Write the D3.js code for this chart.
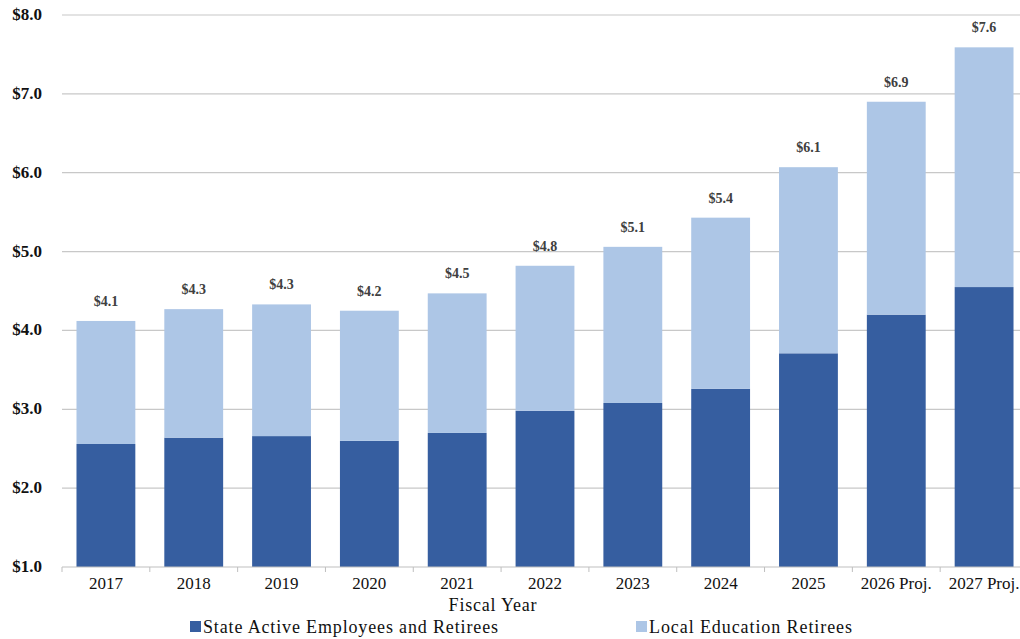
<!DOCTYPE html>
<html><head><meta charset="utf-8">
<script src="https://cdn.jsdelivr.net/npm/d3@7"></script>
<style>body{margin:0;background:#fff;}</style>
</head><body>
<svg id="chart" width="1020" height="639"></svg>
<script>
const categories = ["2017","2018","2019","2020","2021","2022","2023","2024","2025","2026 Proj.","2027 Proj."];
const stateActive = [2.56,2.64,2.66,2.60,2.70,2.98,3.08,3.26,3.71,4.20,4.55];
const localEducation = [1.56,1.63,1.67,1.65,1.77,1.84,1.98,2.17,2.36,2.70,3.04];
const totalLabels = ["$4.1","$4.3","$4.3","$4.2","$4.5","$4.8","$5.1","$5.4","$6.1","$6.9","$7.6"];
const yTicks = [1,2,3,4,5,6,7,8];
const seriesNames = ["State Active Employees and Retirees","Local Education Retirees"];
const colors = ["#365EA0","#ADC6E6"];
const FONT = '"Liberation Serif", "Times New Roman", serif';

const svg = d3.select("#chart");
const x = d3.scaleBand().domain(categories).range([62,1028]).paddingInner(0.33).paddingOuter(0.165);
const y = d3.scaleLinear().domain([1,8]).range([567,15]);

svg.append("g").selectAll("line").data(yTicks.slice(1)).join("line")
  .attr("x1",62).attr("x2",1028).attr("y1",d=>y(d)).attr("y2",d=>y(d))
  .attr("stroke","#c8c8c8").attr("stroke-width",1.2);

svg.append("g").selectAll("text").data(yTicks).join("text")
  .attr("x",42).attr("y",d=>y(d)+5).attr("text-anchor","end").style("font-family",FONT)
  .attr("font-size",17).attr("font-weight","bold").attr("fill","#111")
  .text(d=>"$"+d.toFixed(1));

const data = categories.map((c,i)=>({c, s:stateActive[i], l:localEducation[i], lab:totalLabels[i]}));
const stack = d3.stack().keys(["s","l"])(data);

svg.append("g").selectAll("g").data(stack).join("g")
  .attr("fill",(d,i)=>colors[i])
  .selectAll("rect").data(d=>d).join("rect")
  .attr("x",d=>x(d.data.c)).attr("width",x.bandwidth())
  .attr("y",d=>y(d[1])).attr("height",d=>y(Math.max(1,d[0]))-y(d[1]));

svg.append("g").selectAll("text").data(data).join("text")
  .attr("x",d=>x(d.c)+x.bandwidth()/2).attr("y",d=>y(d.s+d.l)-15).style("font-family",FONT)
  .attr("text-anchor","middle").attr("font-size",14).attr("font-weight","bold").attr("fill","#404040")
  .text(d=>d.lab);

const xAxis = svg.append("g").attr("transform","translate(0,567)");
xAxis.append("line").attr("x1",62).attr("x2",1028).attr("stroke","#bfbfbf").attr("stroke-width",1.2);
const bounds = d3.range(categories.length+1).map(i=>62+i*x.step());
xAxis.selectAll("line.t").data(bounds).join("line").attr("class","t")
  .attr("x1",d=>d).attr("x2",d=>d).attr("y1",0).attr("y2",5).attr("stroke","#bfbfbf");
xAxis.selectAll("text").data(categories).join("text")
  .attr("x",d=>x(d)+x.bandwidth()/2).attr("y",22).attr("text-anchor","middle").style("font-family",FONT)
  .attr("font-size",17).attr("fill","#111").text(d=>d);

svg.append("text").attr("x",493).attr("y",611).attr("text-anchor","middle").style("font-family",FONT)
  .attr("font-size",18).attr("letter-spacing","0.8px").attr("fill","#111").text("Fiscal Year");

const legendX = [190,636];
const legendW = [295,203];
const lg = svg.append("g").selectAll("g").data(seriesNames).join("g")
  .attr("transform",(d,i)=>`translate(${legendX[i]},621)`);
lg.append("rect").attr("width",11).attr("height",11).attr("fill",(d,i)=>colors[i]);
lg.append("text").attr("x",13).attr("y",12).attr("font-size",18).style("font-family",FONT)
  .attr("textLength",(d,i)=>legendW[i]).attr("lengthAdjust","spacing")
  .attr("fill","#111").text(d=>d);
</script>
</body></html>
